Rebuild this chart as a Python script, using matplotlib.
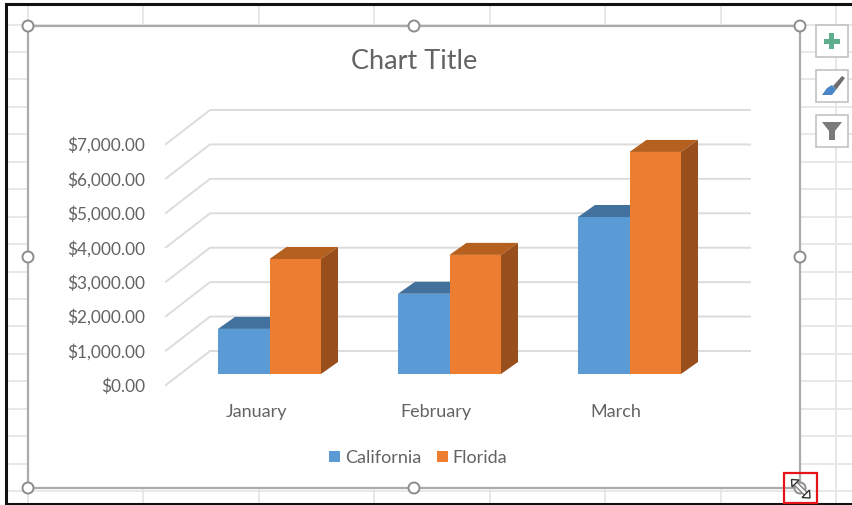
import numpy as np
import matplotlib
matplotlib.use('Agg')
import matplotlib.pyplot as plt
from matplotlib.patches import Polygon, Rectangle, Circle

plt.rcParams['font.family'] = ['Lato', 'DejaVu Sans']

months = ['January', 'February', 'March']
series_names = ['California', 'Florida']
california = [1310, 2330, 4560]
florida = [3340, 3460, 6450]
axis_values = [0, 1000, 2000, 3000, 4000, 5000, 6000, 7000]
axis_labels = ['$0.00', '$1,000.00', '$2,000.00', '$3,000.00', '$4,000.00', '$5,000.00', '$6,000.00', '$7,000.00']

W, H = 853, 505
BLUE, BLUE_TOP = '#5B9BD5', '#41719C'
ORANGE, ORANGE_TOP, ORANGE_SIDE = '#ED7D31', '#B5601F', '#984F1C'
TXT = '#636363'
GRID = '#DCDCDC'
CELL = '#E6E6E6'
FRAME = '#ABABAB'

fig = plt.figure(figsize=(W / 100, H / 100), dpi=100, facecolor='white')

# background layer in pixels: the worksheet and the selection frame
bg = fig.add_axes([0, 0, 1, 1])
bg.set_xlim(0, W)
bg.set_ylim(H, 0)
bg.axis('off')
for y in np.arange(24.5, 500, 27.45):
    bg.plot([6, W], [y, y], color=CELL, lw=1.3)
for x in np.arange(28, W, 115.5):
    bg.plot([x, x], [4, 503], color=CELL, lw=1.3)
bg.plot([W, 6, 6, W], [4, 4, 504, 504], color='#111111', lw=2.2, solid_joinstyle='miter')

bg.add_patch(Rectangle((28, 26), 772, 462, fc='white', ec=FRAME, lw=1.6, zorder=3))
for hx, hy in [(28, 26), (414, 26), (800, 26), (28, 257), (800, 257), (28, 488), (414, 488), (800, 488)]:
    bg.add_patch(Circle((hx, hy), 5.5, fc='white', ec='#8C8C8C', lw=1.4, zorder=4))

# buttons on the right
for by in [25, 70, 115]:
    bg.add_patch(Rectangle((816, by), 32, 32, fc='white', ec='#BDBDBD', lw=1.1, zorder=3))
bg.add_patch(Rectangle((824, 38.5), 16, 5, fc='#5FAE8E', zorder=4))
bg.add_patch(Rectangle((829.5, 33), 5, 16, fc='#5FAE8E', zorder=4))
bg.add_patch(Polygon([[833, 86], [842, 76], [845, 78], [836, 90]], fc='#6E6E6E', zorder=4))
bg.add_patch(Polygon([[822, 95], [827, 88], [832, 85], [836, 90], [832, 95]], fc='#4A86C8', zorder=4))
bg.add_patch(Polygon([[822, 122], [842, 122], [835, 131], [835, 140], [829, 140], [829, 131]], fc='#7A7A7A', zorder=4))

# resize cursor and the red box round it
bg.add_patch(Rectangle((784, 472.5), 33, 30, fc='none', ec='#E8141C', lw=1.6, zorder=6))
bg.plot([795, 806], [483, 494], color='#8C8C8C', lw=4, zorder=7)
bg.plot([795, 806], [483, 494], color='white', lw=1.6, zorder=7)
bg.add_patch(Polygon([[791.5, 479.5], [799, 480], [792, 487]], fc='white', ec='#333333', lw=1, zorder=8))
bg.add_patch(Polygon([[810, 498], [802, 497.5], [809.5, 490]], fc='white', ec='#333333', lw=1, zorder=8))

# chart layer: x in category units, y in dollars
PX_X = 180.0         # pixels for one category
PX_Y = 241.0 / 7000  # pixels for one dollar
X0, Y0 = 269.5, 374  # pixel of category 0 at $0
L, R, T, B = 145, 750, 100, 385

ax = fig.add_axes([L / W, 1 - B / H, (R - L) / W, (B - T) / H])
ax.patch.set_alpha(0)
ax.set_xlim((L - X0) / PX_X, (R - X0) / PX_X)
ax.set_ylim((Y0 - B) / PX_Y, (Y0 - T) / PX_Y)
for s in ax.spines.values():
    s.set_visible(False)

dx = 17 / PX_X
dy = 12 / PX_Y
wall_x = (210 - X0) / PX_X
wall_dy = 23 / PX_Y
front_x = (166 - X0) / PX_X
front_dy = -11 / PX_Y
right_x = (750 - X0) / PX_X

for v in axis_values:
    ax.plot([front_x, wall_x, right_x], [v + front_dy, v + wall_dy, v + wall_dy],
            color=GRID, lw=1.4, solid_joinstyle='miter', clip_on=False, zorder=1)

bw = 51.5 / PX_X
xpos = np.arange(len(months))
ax.bar(xpos - bw / 2, california, bw, color=BLUE, zorder=4)
ax.bar(xpos + bw / 2, florida, bw, color=ORANGE, zorder=5)
for i in xpos:
    c, f = california[i], florida[i]
    ax.add_patch(Polygon([[i - bw, c], [i - bw + dx, c + dy], [i + dx, c + dy], [i, c]], fc=BLUE_TOP, zorder=3))
    ax.add_patch(Polygon([[i, f], [i + dx, f + dy], [i + bw + dx, f + dy], [i + bw, f]], fc=ORANGE_TOP, zorder=3))
    ax.add_patch(Polygon([[i + bw, 0], [i + bw + dx, dy], [i + bw + dx, f + dy], [i + bw, f]], fc=ORANGE_SIDE, zorder=3))

ax.set_yticks(np.array(axis_values) + front_dy)
ax.set_yticklabels(axis_labels)
ax.set_xticks(xpos - 13.5 / PX_X)
ax.set_xticklabels(months)
ax.tick_params(axis='both', length=0, colors=TXT)
ax.tick_params(axis='y', pad=0, labelsize=12.4)
ax.tick_params(axis='x', pad=13.5, labelsize=13)

# title and legend
bg.text(414.5, 61.5, 'Chart Title', fontsize=19.5, color=TXT, ha='center', va='center', zorder=5)
bg.add_patch(Rectangle((329, 451), 11, 11, fc=BLUE, zorder=5))
bg.text(345, 458, series_names[0], fontsize=13, color=TXT, va='center', zorder=5)
bg.add_patch(Rectangle((437, 451), 11, 11, fc=ORANGE, zorder=5))
bg.text(452, 458, series_names[1], fontsize=13, color=TXT, va='center', zorder=5)

fig.savefig('out.png', dpi=100)
